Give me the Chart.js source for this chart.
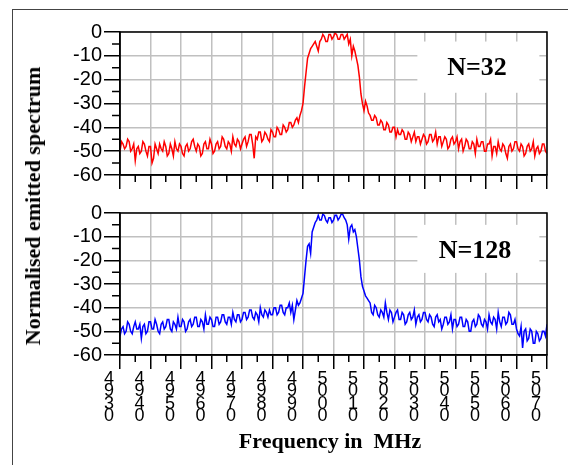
<!DOCTYPE html>
<html>
<head>
<meta charset="utf-8">
<script src="https://cdn.jsdelivr.net/npm/chart.js"></script>
<style>
  body { margin: 0; background: #fff; }
  #page { position: relative; width: 568px; height: 465px; overflow: hidden; }
  #frame { position: absolute; left: 12px; top: 9px; width: 620px; height: 520px; border: 1.5px solid #444; }
  canvas { position: absolute; left: 0; }
  .lbl { position: absolute; font-family: "Liberation Serif", "Times New Roman", serif; font-weight: bold; color: #000; white-space: nowrap; transform: translate(-50%, -50%); }
</style>
</head>
<body>
<div id="page">
  <div id="frame"></div>
  <canvas id="topChart" width="568" height="195" style="top:0"></canvas>
  <canvas id="bottomChart" width="568" height="270" style="top:195px"></canvas>
  <div class="lbl" style="left:477px; top:67px; font-size:26px;">N=32</div>
  <div class="lbl" style="left:475px; top:250px; font-size:26px;">N=128</div>
  <div class="lbl" style="left:33px; top:206px; font-size:22px; transform: translate(-50%, -50%) rotate(-90deg);">Normalised emitted spectrum</div>
  <div class="lbl" style="left:330px; top:441px; font-size:22px;">Frequency in&nbsp; MHz</div>
</div>
<script>
// frequency samples (MHz)
const freq = [
  4930, 4930.5, 4931, 4931.5, 4932, 4932.5, 4933, 4933.5, 4934, 4934.5,
  4935, 4935.5, 4936, 4936.5, 4937, 4937.5, 4938, 4938.5, 4939, 4939.5,
  4940, 4940.5, 4941, 4941.5, 4942, 4942.5, 4943, 4943.5, 4944, 4944.5,
  4945, 4945.5, 4946, 4946.5, 4947, 4947.5, 4948, 4948.5, 4949, 4949.5,
  4950, 4950.5, 4951, 4951.5, 4952, 4952.5, 4953, 4953.5, 4954, 4954.5,
  4955, 4955.5, 4956, 4956.5, 4957, 4957.5, 4958, 4958.5, 4959, 4959.5,
  4960, 4960.5, 4961, 4961.5, 4962, 4962.5, 4963, 4963.5, 4964, 4964.5,
  4965, 4965.5, 4966, 4966.5, 4967, 4967.5, 4968, 4968.5, 4969, 4969.5,
  4970, 4970.5, 4971, 4971.5, 4972, 4972.5, 4973, 4973.5, 4974, 4974.5,
  4975, 4975.5, 4976, 4976.5, 4977, 4977.5, 4978, 4978.5, 4979, 4979.5,
  4980, 4980.5, 4981, 4981.5, 4982, 4982.5, 4983, 4983.5, 4984, 4984.5,
  4985, 4985.5, 4986, 4986.5, 4987, 4987.5, 4988, 4988.5, 4989, 4989.5,
  4990, 4990.5, 4991, 4991.5, 4992, 4992.5, 4993, 4993.5, 4994, 4994.5,
  4995, 4995.5, 4996, 4996.5, 4997, 4997.5, 4998, 4998.5, 4999, 4999.5,
  5000, 5000.5, 5001, 5001.5, 5002, 5002.5, 5003, 5003.5, 5004, 5004.5,
  5005, 5005.5, 5006, 5006.5, 5007, 5007.5, 5008, 5008.5, 5009, 5009.5,
  5010, 5010.5, 5011, 5011.5, 5012, 5012.5, 5013, 5013.5, 5014, 5014.5,
  5015, 5015.5, 5016, 5016.5, 5017, 5017.5, 5018, 5018.5, 5019, 5019.5,
  5020, 5020.5, 5021, 5021.5, 5022, 5022.5, 5023, 5023.5, 5024, 5024.5,
  5025, 5025.5, 5026, 5026.5, 5027, 5027.5, 5028, 5028.5, 5029, 5029.5,
  5030, 5030.5, 5031, 5031.5, 5032, 5032.5, 5033, 5033.5, 5034, 5034.5,
  5035, 5035.5, 5036, 5036.5, 5037, 5037.5, 5038, 5038.5, 5039, 5039.5,
  5040, 5040.5, 5041, 5041.5, 5042, 5042.5, 5043, 5043.5, 5044, 5044.5,
  5045, 5045.5, 5046, 5046.5, 5047, 5047.5, 5048, 5048.5, 5049, 5049.5,
  5050, 5050.5, 5051, 5051.5, 5052, 5052.5, 5053, 5053.5, 5054, 5054.5,
  5055, 5055.5, 5056, 5056.5, 5057, 5057.5, 5058, 5058.5, 5059, 5059.5,
  5060, 5060.5, 5061, 5061.5, 5062, 5062.5, 5063, 5063.5, 5064, 5064.5,
  5065, 5065.5, 5066, 5066.5, 5067, 5067.5, 5068, 5068.5, 5069, 5069.5,
  5070
];

// N=32 spectrum (dB), one row per 5 MHz
const spectrumN32 = [
  -50, -46, -47, -49, -48, -45, -46, -50, -49, -47,
  -54, -49, -48, -51, -50, -46, -47, -50, -52, -48,
  -48, -55, -53, -47, -49, -51, -47, -49, -50, -46,
  -48, -52, -51, -47, -49, -52, -46, -49, -50, -47,
  -48, -51, -52, -48, -47, -50, -49, -46, -45, -48,
  -50, -47, -48, -52, -51, -47, -46, -49, -49, -45,
  -47, -51, -50, -47, -46, -49, -48, -44, -45, -48,
  -49, -46, -47, -50, -44, -47, -48, -45, -46, -49,
  -47, -45, -44, -48, -46, -43, -43, -47, -53, -44,
  -45, -42, -42, -46, -45, -42, -43, -45, -46, -41,
  -42, -44, -44, -40, -41, -43, -43, -39, -40, -42,
  -41, -38, -38, -40, -39, -37, -36, -38, -35, -33,
  -30, -23, -17, -11, -9, -7, -6, -5, -4, -6,
  -8, -4, -3, -1, -2, -4, -4, -1, -1, -3,
  -2, -0.5, -1, -3, -3, -1, -1, -3, -2, -1,
  -5, -3, -10, -6, -8, -11, -14, -19, -26, -30,
  -33, -29, -31, -34, -35, -37, -37, -35, -36, -39,
  -39, -37, -38, -41, -41, -38, -39, -42, -42, -40,
  -40, -44, -41, -43, -43, -41, -42, -45, -45, -42,
  -43, -46, -44, -42, -46, -44, -44, -47, -45, -43,
  -44, -47, -46, -43, -43, -46, -45, -42, -47, -44,
  -44, -48, -46, -44, -45, -49, -48, -45, -44, -47,
  -46, -44, -49, -46, -45, -50, -48, -45, -46, -49,
  -49, -46, -47, -51, -45, -48, -48, -46, -46, -50,
  -50, -47, -47, -45, -52, -48, -48, -51, -46, -49,
  -50, -47, -48, -51, -53, -48, -47, -50, -49, -46,
  -46, -49, -50, -47, -48, -52, -51, -48, -47, -50,
  -49, -46, -52, -49, -48, -51, -50, -47, -47, -50,
  -51
];

// N=128 spectrum (dB), one row per 5 MHz
const spectrumN128 = [
  -52, -49, -48, -51, -50, -46, -47, -50, -51, -48,
  -46, -49, -49, -47, -53, -48, -47, -51, -50, -46,
  -46, -49, -49, -45, -47, -50, -51, -47, -46, -49,
  -48, -45, -45, -49, -50, -46, -47, -49, -44, -48,
  -48, -45, -46, -50, -49, -46, -45, -48, -47, -44,
  -44, -48, -48, -45, -46, -49, -43, -47, -47, -44,
  -45, -48, -48, -44, -44, -47, -46, -43, -43, -46,
  -47, -44, -44, -47, -42, -45, -46, -43, -43, -46,
  -45, -42, -42, -45, -44, -41, -41, -44, -45, -42,
  -43, -46, -40, -43, -44, -41, -42, -44, -41, -43,
  -43, -40, -40, -43, -42, -39, -39, -42, -43, -40,
  -40, -38, -42, -39, -45, -41, -37, -39, -38, -36,
  -34, -27, -20, -14, -13, -17, -8, -6, -4, -3,
  -1, -3, -3, -0.5, -1, -3, -4, -2, -2, -4,
  -3, -1, -1, -3, -2, -0.5, -0.5, -2, -3, -5,
  -11, -6, -5, -8, -7, -10, -15, -20, -27, -31,
  -33, -35, -36, -37, -38, -42, -43, -39, -40, -43,
  -44, -41, -42, -44, -38, -42, -45, -41, -42, -46,
  -44, -42, -41, -45, -45, -42, -43, -47, -46, -43,
  -42, -45, -44, -41, -47, -44, -43, -46, -45, -42,
  -42, -45, -46, -43, -44, -47, -48, -44, -43, -46,
  -45, -49, -47, -44, -44, -47, -46, -43, -49, -45,
  -45, -48, -47, -44, -44, -48, -48, -45, -46, -50,
  -50, -46, -45, -48, -47, -43, -44, -47, -48, -45,
  -46, -49, -43, -46, -47, -44, -45, -49, -42, -46,
  -48, -44, -44, -47, -46, -42, -43, -47, -47, -45,
  -49, -51, -52, -48, -57, -50, -49, -54, -53, -49,
  -50, -55, -55, -50, -51, -54, -53, -50, -50, -52,
  -47
];

const yTicks = [0, -10, -20, -30, -40, -50, -60];
const xRange = [4930, 5070];

// label boxes (data units) that hide the grid behind the N= text
const boxTop = { x0: 5027.5, x1: 5067.5, y0: -4, y1: -25.5 };
const boxBottom = { x0: 5027.5, x1: 5067.5, y0: -5, y1: -25.3 };

function panelPlugin(box) {
  return {
    id: 'panel',
    beforeDatasetsDraw(chart) {
      const ctx = chart.ctx, xs = chart.scales.x, ys = chart.scales.y;
      ctx.save();
      ctx.fillStyle = '#fff';
      const l = xs.getPixelForValue(box.x0), r = xs.getPixelForValue(box.x1);
      const t = ys.getPixelForValue(box.y0), b = ys.getPixelForValue(box.y1);
      ctx.fillRect(l, t, r - l, b - t);
      ctx.restore();
    },
    afterDraw(chart) {
      const ctx = chart.ctx, a = chart.chartArea, xs = chart.scales.x, ys = chart.scales.y;
      ctx.save();
      ctx.strokeStyle = '#000';
      ctx.lineWidth = 1.5;
      ctx.strokeRect(a.left, a.top, a.right - a.left, a.bottom - a.top);
      // minor ticks
      ctx.beginPath();
      for (let v = xRange[0] + 5; v < xRange[1]; v += 10) {
        const px = xs.getPixelForValue(v);
        ctx.moveTo(px, a.bottom);
        ctx.lineTo(px, a.bottom + 7);
      }
      for (let v = -55; v < 0; v += 10) {
        const py = ys.getPixelForValue(v);
        ctx.moveTo(a.left - 8, py);
        ctx.lineTo(a.left, py);
      }
      ctx.stroke();
      ctx.restore();
    }
  };
}

function makeOptions(showLabels, topPad, xHeight) {
  return {
    responsive: false,
    animation: false,
    layout: { padding: { top: topPad, right: 21, left: 0, bottom: 0 } },
    plugins: { legend: { display: false }, tooltip: { enabled: false } },
    scales: {
      x: {
        type: 'linear',
        min: xRange[0],
        max: xRange[1],
        afterFit: (s) => { s.height = xHeight; },
        border: { color: '#000', width: 1.5 },
        grid: { color: '#c0c0c0', lineWidth: 1.5, tickColor: '#000', tickWidth: 1.5, tickLength: 14 },
        ticks: {
          display: showLabels,
          stepSize: 10,
          maxRotation: 0,
          autoSkip: false,
          padding: 4,
          labelOffset: -11,
          color: '#000',
          font: { family: 'Liberation Sans, Arial, sans-serif', size: 18, lineHeight: 0.68 },
          callback: (v) => String(v).split('')
        }
      },
      y: {
        min: yTicks[yTicks.length - 1],
        max: yTicks[0],
        afterFit: (s) => { s.width = 120; },
        border: { color: '#000', width: 1.5 },
        grid: { color: '#c0c0c0', lineWidth: 1.5, tickColor: '#000', tickWidth: 1.5, tickLength: 16 },
        ticks: {
          stepSize: 10,
          autoSkip: false,
          padding: 2,
          color: '#000',
          font: { family: 'Liberation Sans, Arial, sans-serif', size: 20 }
        }
      }
    }
  };
}

function points(values) {
  return freq.map((f, i) => ({ x: f, y: values[i] }));
}

new Chart(document.getElementById('topChart').getContext('2d'), {
  type: 'line',
  data: {
    datasets: [{
      label: 'N=32',
      data: points(spectrumN32),
      borderColor: '#ff0000',
      borderWidth: 1.5,
      pointRadius: 0,
      tension: 0
    }]
  },
  options: makeOptions(false, 32, 20),
  plugins: [panelPlugin(boxTop)]
});

new Chart(document.getElementById('bottomChart').getContext('2d'), {
  type: 'line',
  data: {
    datasets: [{
      label: 'N=128',
      data: points(spectrumN128),
      borderColor: '#0000ff',
      borderWidth: 1.5,
      pointRadius: 0,
      tension: 0
    }]
  },
  options: makeOptions(true, 18, 110),
  plugins: [panelPlugin(boxBottom)]
});
</script>
</body>
</html>
